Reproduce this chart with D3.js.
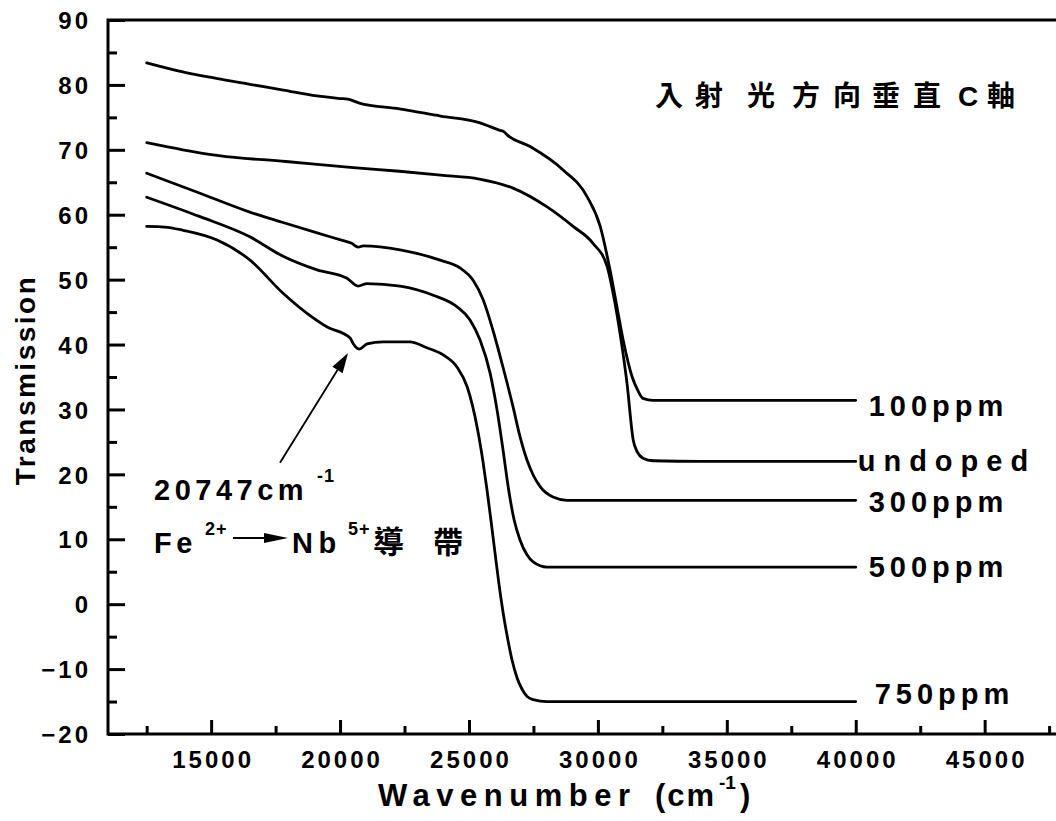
<!DOCTYPE html>
<html>
<head>
<meta charset="utf-8">
<script src="https://cdn.jsdelivr.net/npm/d3@7/dist/d3.min.js"></script>
<style>
  body { margin: 0; background: #fff; }
  svg { display: block; }
  text { font-family: "Liberation Sans", Arial, "Noto Sans CJK TC", sans-serif; font-weight: bold; fill: #000; }
</style>
</head>
<body>
<svg id="chart" width="1056" height="821"></svg>
<script>
// Transmission spectra (wavenumber in cm^-1, transmission in %)
const wn100 = [12500, 13900, 15200, 16500, 17800, 19100, 20000, 20300, 20750, 22300, 23900, 25400, 26200, 26350, 26480, 27370, 28650, 29580, 30090, 30470, 30740, 30980, 31330, 31540, 31750, 32140, 34000, 37000, 40000];
const t100  = [83.4, 82.0, 81.0, 80.1, 79.2, 78.3, 77.9, 77.8, 77.2, 76.3, 75.2, 74.2, 73.0, 72.8, 72.3, 70.5, 66.9, 62.8, 58.2, 51.5, 45.8, 40.7, 35.0, 33.0, 31.7, 31.4, 31.4, 31.4, 31.4];

const wnUndoped = [12500, 13900, 15300, 17900, 20400, 22300, 23900, 25400, 26710, 28030, 29040, 29810, 30360, 30590, 30860, 31130, 31370, 31520, 31750, 32140, 34000, 37000, 40000];
const tUndoped  = [71.1, 70.0, 69.1, 68.2, 67.3, 66.7, 66.1, 65.5, 64.1, 61.2, 58.2, 55.6, 52.0, 47.9, 41.7, 34.0, 25.3, 23.5, 22.5, 22.1, 22.0, 22.0, 22.0];

const wn300 = [12500, 14570, 16500, 17790, 19110, 20120, 20450, 20700, 20900, 22330, 23880, 24650, 25160, 25550, 25930, 26320, 26710, 26980, 27250, 27490, 27760, 28260, 28800, 32000, 36000, 40000];
const t300  = [66.4, 63.3, 60.4, 58.8, 57.2, 56.0, 55.6, 55.0, 55.2, 54.6, 53.0, 51.8, 49.9, 46.9, 42.2, 36.5, 30.4, 25.8, 22.2, 19.9, 18.1, 16.5, 16.0, 16.0, 16.0, 16.0];

const wn500 = [12500, 14570, 16500, 17790, 19110, 20270, 20700, 21050, 22330, 23610, 24540, 25040, 25430, 25820, 26090, 26320, 26520, 26750, 26980, 27250, 27490, 28030, 32000, 36000, 40000];
const t500  = [62.7, 59.7, 56.6, 53.6, 51.5, 50.2, 49.0, 49.4, 49.0, 47.6, 45.8, 43.8, 40.7, 35.6, 29.9, 23.8, 18.1, 13.0, 9.9, 7.6, 6.5, 5.7, 5.7, 5.7, 5.7];

const wn750 = [12500, 13200, 13910, 15230, 16510, 17790, 18720, 19500, 20390, 20500, 20740, 21050, 21670, 22710, 23370, 24000, 24540, 24930, 25330, 25550, 25700, 25860, 26010, 26170, 26320, 26520, 26670, 26870, 27060, 27250, 27490, 28030, 32000, 36000, 40000];
const t750  = [58.2, 58.1, 57.6, 56.1, 53.0, 47.9, 44.8, 42.7, 41.0, 40.2, 39.3, 40.1, 40.4, 40.4, 39.5, 38.4, 36.5, 33.5, 27.0, 21.8, 17.6, 12.7, 7.9, 2.9, -1.2, -5.7, -8.6, -11.4, -13.1, -14.2, -14.7, -15.0, -15.0, -15.0, -15.0];

const seriesNames = ["100ppm", "undoped", "300ppm", "500ppm", "750ppm"];
const seriesX = [wn100, wnUndoped, wn300, wn500, wn750];
const seriesY = [t100, tUndoped, t300, t500, t750];

const xMajorTicks = [15000, 20000, 25000, 30000, 35000, 40000, 45000];
const xMinorTicks = [12500, 17500, 22500, 27500, 32500, 37500, 42500, 47500];
const yMajorTicks = [-20, -10, 0, 10, 20, 30, 40, 50, 60, 70, 80, 90];
const yMinorTicks = [-15, -5, 5, 15, 25, 35, 45, 55, 65, 75, 85];

const titleChars = ["入", "射", "光", "方", "向", "垂", "直", "C", "軸"];
const peakLabel = "20747cm";

(function draw() {
  const svg = d3.select("#chart");
  const plotLeft = 108, plotRight = 1062, plotTop = 20, plotBottom = 734;
  const x = d3.scaleLinear().domain([11000, 48000]).range([plotLeft, plotRight]);
  const y = d3.scaleLinear().domain([-20, 90]).range([plotBottom, plotTop]);

  // axes: ticks point into the plot
  const tickFont = g => g.selectAll("text")
    .style("font-size", "24px").style("letter-spacing", "3px").attr("fill", "#000");
  const tickLine = g => g.selectAll("line").attr("stroke", "#000").attr("stroke-width", 3);

  svg.append("g").attr("transform", `translate(${plotLeft},0)`)
    .call(d3.axisLeft(y).tickValues(yMinorTicks).tickSize(-9).tickSizeOuter(0).tickFormat(""))
    .call(g => g.select(".domain").remove()).call(tickLine);
  svg.append("g").attr("transform", `translate(${plotLeft},0)`)
    .call(d3.axisLeft(y).tickValues(yMajorTicks).tickSize(-17).tickSizeOuter(0).tickPadding(17).tickFormat(d3.format("d")))
    .call(g => g.select(".domain").remove()).call(tickLine).call(tickFont)
    .call(g => g.selectAll("text").attr("dy", "0.36em"));

  svg.append("g").attr("transform", `translate(0,${plotBottom})`)
    .call(d3.axisBottom(x).tickValues(xMinorTicks).tickSize(-8).tickSizeOuter(0).tickFormat(""))
    .call(g => g.select(".domain").remove()).call(tickLine);
  svg.append("g").attr("transform", `translate(0,${plotBottom})`)
    .call(d3.axisBottom(x).tickValues(xMajorTicks).tickSize(-14).tickSizeOuter(0).tickPadding(17).tickFormat(d3.format("d")))
    .call(g => g.select(".domain").remove()).call(tickLine).call(tickFont)
    .call(g => g.selectAll("text").attr("dx", "1.5px"));

  // frame: top, left and bottom borders
  svg.append("path")
    .attr("d", `M${plotRight},${plotTop}H${plotLeft}V${plotBottom}H${plotRight}`)
    .attr("fill", "none").attr("stroke", "#000").attr("stroke-width", 3);

  // spectra
  const line = d3.line().x(d => x(d[0])).y(d => y(d[1])).curve(d3.curveMonotoneX);
  seriesNames.forEach((name, i) => {
    const pts = seriesX[i].map((w, j) => [w, seriesY[i][j]]);
    svg.append("path").datum(pts)
      .attr("d", line)
      .attr("fill", "none").attr("stroke", "#000")
      .attr("stroke-width", 2.8).attr("stroke-linejoin", "round").attr("stroke-linecap", "round");
  });

  // series labels at the right end of each curve: [dx, dy, letter-spacing]
  const labelStyle = [[13, 16, 5], [2, 10, 8], [13, 12, 5], [13, 10, 5], [19, 2, 5]];
  seriesNames.forEach((name, i) => {
    const xs = seriesX[i], ys = seriesY[i];
    svg.append("text")
      .attr("x", x(xs[xs.length - 1]) + labelStyle[i][0])
      .attr("y", y(ys[ys.length - 1]) + labelStyle[i][1])
      .style("font-size", "29px").style("letter-spacing", labelStyle[i][2] + "px")
      .text(name);
  });

  // title
  const titleX = [655, 695, 747, 792, 833, 872, 913, 958, 987];
  const title = svg.append("text").attr("y", 106).style("font-size", "28px");
  titleChars.forEach((c, i) => title.append("tspan").attr("x", titleX[i]).text(c));

  // axis titles
  const xt = svg.append("text").attr("y", 806).style("font-size", "31px");
  xt.append("tspan").attr("x", 378).style("letter-spacing", "6.5px").text("Wavenumber");
  xt.append("tspan").attr("x", 655).style("letter-spacing", "2px").text("(cm");
  xt.append("tspan").attr("x", 719).attr("y", 789).style("font-size", "19px").style("letter-spacing", "0px").text("-1");
  xt.append("tspan").attr("x", 740).attr("y", 806).text(")");

  svg.append("text")
    .attr("transform", "translate(35,380) rotate(-90)")
    .attr("text-anchor", "middle")
    .style("font-size", "28px").style("letter-spacing", "2.5px")
    .text("Transmission");

  // annotation of the Fe2+ absorption dip
  const arrowFrom = [17670, 21.8], arrowTo = [20310, 38.7];
  const ax0 = x(arrowFrom[0]), ay0 = y(arrowFrom[1]), ax1 = x(arrowTo[0]), ay1 = y(arrowTo[1]);
  const ang = Math.atan2(ay1 - ay0, ax1 - ax0);
  const headLen = 20, headW = 6;
  const bx = ax1 - headLen * Math.cos(ang), by = ay1 - headLen * Math.sin(ang);
  svg.append("line").attr("x1", ax0).attr("y1", ay0).attr("x2", bx).attr("y2", by)
    .attr("stroke", "#000").attr("stroke-width", 1.8);
  svg.append("path")
    .attr("d", `M${ax1},${ay1}L${bx + headW * Math.sin(ang)},${by - headW * Math.cos(ang)}L${bx - headW * Math.sin(ang)},${by + headW * Math.cos(ang)}Z`)
    .attr("fill", "#000");

  const pk = svg.append("text").attr("x", 154).attr("y", 500)
    .style("font-size", "29px").style("letter-spacing", "4.5px");
  pk.append("tspan").text(peakLabel);
  pk.append("tspan").attr("x", 317).attr("y", 482).style("font-size", "18px").style("letter-spacing", "1px").text("-1");

  const tr = svg.append("g");
  tr.append("text").attr("x", 154).attr("y", 553).style("font-size", "29px").style("letter-spacing", "4.5px").text("Fe");
  tr.append("text").attr("x", 205).attr("y", 535).style("font-size", "18px").style("letter-spacing", "1px").text("2+");
  tr.append("line").attr("x1", 233).attr("y1", 538).attr("x2", 266).attr("y2", 538)
    .attr("stroke", "#000").attr("stroke-width", 1.8);
  tr.append("path").attr("d", "M288,538L264,533L264,543Z").attr("fill", "#000");
  tr.append("text").attr("x", 292).attr("y", 553).style("font-size", "29px").style("letter-spacing", "5.5px").text("Nb");
  tr.append("text").attr("x", 348).attr("y", 535).style("font-size", "18px").style("letter-spacing", "1px").text("5+");
  tr.append("text").attr("x", 373).attr("y", 553).style("font-size", "31px").text("導");
  tr.append("text").attr("x", 433).attr("y", 553).style("font-size", "30px").text("帶");
})();
</script>
</body>
</html>
